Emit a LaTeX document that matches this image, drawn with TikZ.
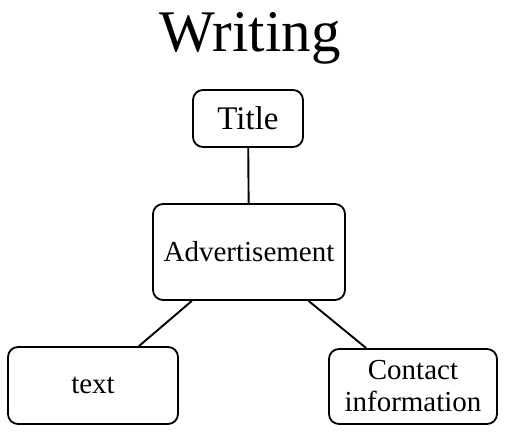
\documentclass[tikz,border=0pt]{standalone}
\usepackage{fontspec}
\setmainfont{Liberation Serif}
\begin{document}
\begin{tikzpicture}[x=1pt,y=-1pt,
  box/.style={draw,line width=1.8pt,rounded corners=10pt,align=center,inner sep=0pt,font=\fontsize{29}{32}\selectfont},
  conn/.style={line width=1.9pt}]
\useasboundingbox (0,0) rectangle (508,435);
\node[anchor=base,inner sep=0pt] (head) at (250,52) {\fontsize{59}{64}\selectfont Writing};
\node[box,minimum width=110pt,minimum height=57pt,font=\fontsize{33}{36}\selectfont] (title) at (248,118.5) {Title};
\node[box,minimum width=192pt,minimum height=96pt] (adv) at (249,252) {Advertisement};
\node[box,minimum width=170pt,minimum height=77pt] (txt) at (93,385.5) {text};
\node[box,minimum width=168pt,minimum height=75pt] (ci) at (413,386.5) {Contact\\information};
\draw[conn] (title) -- (adv);
\draw[conn] (adv) -- (txt);
\draw[conn] (adv) -- (ci);
\end{tikzpicture}
\end{document}
